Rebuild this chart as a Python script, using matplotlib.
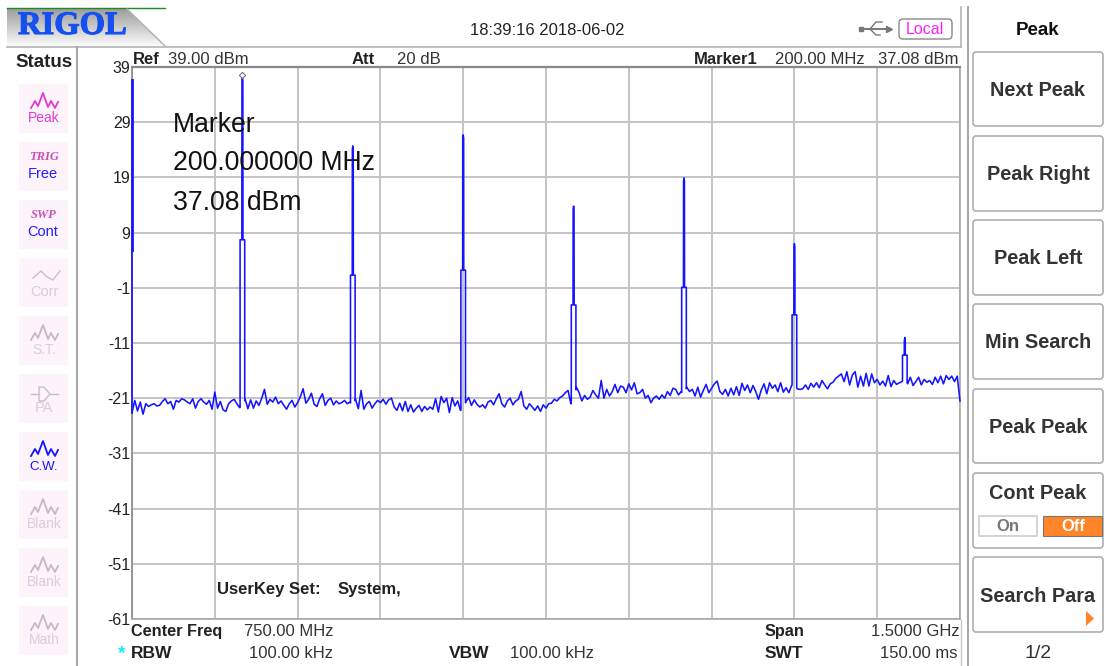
import numpy as np
import matplotlib
matplotlib.use("Agg")
import matplotlib.pyplot as plt
import matplotlib.patheffects as pe
from matplotlib.patches import FancyBboxPatch, Rectangle, Polygon

plt.rcParams['font.family'] = ['Liberation Sans', 'DejaVu Sans']
plt.rcParams['axes.unicode_minus'] = False

# ---------- data ----------
noise_0 = [-23.6,-21.4,-23.3,-21.7,-23.9,-22.0,-22.5,-22.2,-22.0,-22.4,-22.3,-21.6,-21.1,-22.0,-21.6,-23.0,-21.4,-21.7,-21.1,-21.3,-21.7,-22.0,-21.1,-22.8,-21.6,-21.1,-21.7,-22.1,-21.4,-23.0,-19.9,-22.8,-21.6,-23.1,-23.4,-22.0,-21.5,-21.2,-22.0,-22.7]
noise_200 = [-22.6,-21.2,-22.9,-21.3,-22.8,-21.5,-22.3,-21.0,-19.4,-22.1,-21.2,-21.7,-20.8,-22.0,-21.5,-22.3,-23.0,-22.0,-21.4,-22.6,-21.8,-20.7,-19.3,-21.9,-21.2,-20.1,-22.1,-22.5,-21.1,-20.2,-22.3,-21.4,-21.0,-22.2,-21.5,-22.0,-21.8,-21.4,-22.0,-21.7]
noise_400 = [-22.7,-21.2,-22.9,-19.6,-23.0,-22.0,-21.6,-22.8,-22.0,-21.4,-21.8,-21.2,-22.1,-21.3,-21.0,-22.6,-23.2,-21.9,-23.3,-21.6,-23.4,-22.2,-23.5,-22.8,-22.3,-23.4,-22.5,-23.1,-22.6,-23.0,-21.1,-23.5,-20.7,-21.8,-21.0,-23.6,-20.9,-22.4,-21.5,-23.2]
noise_600 = [-23.0,-21.6,-20.9,-22.3,-21.3,-22.1,-22.6,-22.2,-22.8,-21.7,-21.4,-22.2,-21.1,-20.2,-22.0,-22.6,-21.5,-21.0,-22.2,-21.5,-21.2,-19.8,-22.4,-23.0,-22.0,-22.6,-23.2,-22.4,-23.4,-22.2,-22.8,-22.0,-21.9,-21.2,-21.5,-20.9,-20.6,-20.0,-19.6,-22.0]
noise_800 = [-22.0,-19.0,-20.0,-21.5,-20.5,-21.2,-20.8,-19.6,-20.4,-21.0,-17.8,-21.0,-19.4,-20.6,-19.8,-18.5,-20.0,-18.8,-19.0,-20.0,-18.4,-19.5,-18.2,-20.2,-20.0,-19.4,-21.0,-20.5,-21.8,-21.0,-20.6,-21.2,-20.4,-21.0,-19.8,-20.5,-19.2,-19.4,-20.4,-19.8]
noise_1000 = [-20.8,-19.0,-19.8,-19.4,-20.6,-19.0,-20.8,-19.6,-18.5,-20.0,-19.2,-18.4,-17.9,-19.8,-20.3,-19.4,-20.6,-19.2,-20.4,-18.9,-20.5,-18.3,-19.6,-18.6,-20.0,-18.7,-19.8,-21.2,-19.5,-18.4,-20.2,-18.2,-19.2,-18.6,-19.8,-18.2,-19.9,-19.1,-20.0,-18.7]
noise_1200 = [-18.1,-19.3,-19.4,-19.3,-18.6,-19.4,-18.3,-19.0,-18.2,-19.1,-17.8,-18.6,-19.3,-18.4,-18.1,-17.4,-17.0,-16.6,-18.0,-16.2,-18.6,-16.8,-16.2,-19.0,-17.0,-18.8,-16.5,-18.8,-16.6,-18.2,-17.6,-18.6,-17.9,-18.8,-16.9,-18.9,-17.8,-18.5,-18.2,-18.0]
noise_1400 = [-17.0,-18.4,-17.2,-18.7,-18.0,-17.2,-18.6,-17.6,-18.1,-17.8,-18.5,-17.2,-18.2,-17.0,-18.4,-16.9,-17.6,-17.0,-18.0,-17.0,-21.5]

peak_freqs = [200, 400, 600, 800, 1000, 1200, 1400]
peak_levels = [37.08, 24.7, 26.7, 13.8, 18.9, 7.0, -10.0]
pedestal_levels = [7.7, 1.3, 2.2, -4.1, -0.9, -5.9, -13.2]
start_level = 36.6
start_pedestal = 5.9

ref_ticks = [39, 29, 19, 9, -1, -11, -21, -31, -41, -51, -61]
freq_ticks = [0, 150, 300, 450, 600, 750, 900, 1050, 1200, 1350, 1500]

status_items = ["Peak", "Free", "Cont", "Corr", "S.T.", "PA", "C.W.", "Blank", "Blank", "Math"]
softkeys = ["Next Peak", "Peak Right", "Peak Left", "Min Search", "Peak Peak", "Cont Peak", "Search Para"]

# ---------- build trace ----------
noise = np.array(noise_0 + noise_200 + noise_400 + noise_600 + noise_800 + noise_1000 + noise_1200 + noise_1400)
noise_f = np.linspace(0, 1500, len(noise))
fs = list(noise_f); vs = list(noise)
half = 4.2
for f0, top, ped in zip(peak_freqs, peak_levels, pedestal_levels):
    keep = [i for i, f in enumerate(fs) if abs(f - f0) > half + 0.1]
    fs = [fs[i] for i in keep]; vs = [vs[i] for i in keep]
    base_l = float(np.interp(f0 - half, noise_f, noise))
    base_r = float(np.interp(f0 + half, noise_f, noise))
    fs += [f0-half, f0-half, f0-1.0, f0-0.8, f0, f0+0.8, f0+1.0, f0+half, f0+half]
    vs += [base_l, ped, ped, top-0.6, top, top-0.6, ped, ped, base_r]
order = np.argsort(fs, kind='stable')
fs = np.array(fs)[order]; vs = np.array(vs)[order]

# ---------- figure ----------
fig = plt.figure(figsize=(11.05, 6.66), dpi=100, facecolor='white')
W, H = 1105, 666
L, R, T, B = 132, 960, 67, 619
ax = fig.add_axes([L/W, 1-B/H, (R-L)/W, (B-T)/H], zorder=2)
ax.set_xlim(0, 1500); ax.set_ylim(-61, 39)
ax.set_xticks(freq_ticks); ax.set_yticks(ref_ticks)
ax.set_xticklabels([])
ax.tick_params(length=0, labelsize=11.5, pad=1, labelcolor='#222222')
ax.grid(True, color='#c4c4c4', lw=1.4)
ax.set_axisbelow(True)
for s in ax.spines.values():
    s.set_color('#a8a8a8'); s.set_linewidth(1.2)
ax.spines['top'].set_color('#888888'); ax.spines['top'].set_linewidth(1.6)
ax.spines['left'].set_color('#888888')

ax.plot(fs, vs, color='#1414ff', lw=1.15, solid_joinstyle='round', clip_on=False, zorder=4)
ax.plot([0, 0], [start_pedestal, start_level], color='#1414ff', lw=2.0, clip_on=False, zorder=4)
ax.plot([0, 0], [noise[0], start_pedestal], color='#1414ff', lw=1.2, clip_on=False, zorder=4)
ax.plot(peak_freqs[0], peak_levels[0] + 0.55, marker='D', ms=3.2, mfc='white', mec='#666666', mew=0.7, ls='none', zorder=5, clip_on=False)

# chrome overlay in pixel coordinates
ui = fig.add_axes([0, 0, 1, 1], zorder=3)
ui.set_xlim(0, W); ui.set_ylim(H, 0); ui.axis('off'); ui.patch.set_alpha(0)

def txt(x, y, s, size=12, weight='normal', color='#222222', ha='left', **kw):
    ui.text(x, y + 1.5, s, fontsize=size, fontweight=weight, color=color, ha=ha, va='center', **kw)

# logo
grad = np.linspace(0, 1, 100).reshape(-1, 1)
grad_rgb = np.dstack([0.62 + 0.36*grad]*3)
im = ui.imshow(grad_rgb, extent=(7, 166, 46, 9), aspect='auto', zorder=1)
poly = Polygon([(7, 9), (127, 9), (165, 46), (7, 46)], closed=True, transform=ui.transData, fc='none', ec='none')
ui.add_patch(poly); im.set_clip_path(poly)
ui.set_xlim(0, W); ui.set_ylim(H, 0)
ui.plot([7, 165], [7.5, 7.5], color='#1f8a1f', lw=1)
ui.plot([127, 165], [9, 46], color='#b0b0b0', lw=1)
ui.text(18, 25.5, "RIGOL", fontsize=23.5, fontweight='bold', family='Liberation Serif', color='#1450ee', ha='left', va='center', zorder=3,
        path_effects=[pe.withStroke(linewidth=0.8, foreground='#1450ee')])

# frame lines
grey = '#b4b4b4'
ui.plot([7, 961], [46.5, 46.5], color=grey, lw=1.2)
ui.plot([961, 961], [7, 46.5], color=grey, lw=1.2)
ui.plot([76.5, 76.5], [46.5, 666], color='#a8a8a8', lw=1.5)
ui.plot([968, 968], [7, 666], color='#a8a8a8', lw=1.5)
ui.plot([961, 961], [620, 666], color='#c8c8c8', lw=1.0)

# header
txt(547, 29, "18:39:16 2018-06-02", 12, ha='center')
ui.add_patch(FancyBboxPatch((901, 21), 49, 16, boxstyle="round,pad=2,rounding_size=4", fc='white', ec='#888888', lw=1))
txt(925, 28.5, "Local", 11.5, color='#ff20ff', ha='center')
# usb icon
ui.plot([861, 889], [29, 29], color='#777777', lw=1.4)
ui.plot([870, 876, 882], [29, 22, 22], color='#777777', lw=1)
ui.plot([870, 876, 880], [29, 35, 35], color='#777777', lw=1)
ui.plot([861], [29], marker='s', ms=3, color='#777777')
ui.plot([889], [29], marker='>', ms=4.5, color='#777777')

txt(133, 58.5, "Ref", 12, 'bold'); txt(168, 58.5, "39.00 dBm", 12, color='#333333')
txt(352, 58.5, "Att", 12, 'bold'); txt(397, 58.5, "20 dB", 12, color='#333333')
txt(694, 58.5, "Marker1", 12, 'bold'); txt(775, 58.5, "200.00 MHz", 12, color='#333333')
txt(958, 58.5, "37.08 dBm", 12, ha='right', color='#333333')

# marker readout
txt(173, 123, "Marker", 19.2, color='#111111')
txt(173, 161, "200.000000 MHz", 19.2, color='#111111')
txt(173, 201, "37.08 dBm", 19.2, color='#111111')
txt(217, 588, "UserKey Set:", 12, 'bold')
txt(338, 588, "System,", 12, 'bold')

# footer
txt(131, 630, "Center Freq", 11.7, 'bold'); txt(333, 630, "750.00 MHz", 12, ha='right', color='#333333')
txt(765, 630, "Span", 11.7, 'bold'); txt(960, 630, "1.5000 GHz", 12, ha='right', color='#333333')
txt(118, 652, "*", 14, 'bold', color='#22e6f0')
txt(131, 652, "RBW", 12.5, 'bold'); txt(333, 652, "100.00 kHz", 12, ha='right', color='#333333')
txt(449, 652, "VBW", 12.5, 'bold'); txt(594, 652, "100.00 kHz", 12, ha='right', color='#333333')
txt(765, 652, "SWT", 12.5, 'bold'); txt(958, 652, "150.00 ms", 12, ha='right', color='#333333')

# status column
txt(44, 61, "Status", 13.5, 'bold', ha='center', color='#222222')
wave = np.array([(-13, 7), (-9, 0), (-6, 5), (-1, -8), (4, 6), (7, 0), (11, 7), (14, 1)])
corr_x = np.array([-15, -7, -1, 5, 12])
corr_y = np.array([20, 13, 19, 22, 13])
faded = '#dccbdc'
icon_colors = ['#e23ad0', '#2020ff', '#2020ff', faded, faded, faded, '#1414ff', faded, faded, faded]
for i, (label, c) in enumerate(zip(status_items, icon_colors)):
    y0 = 84 + i*58
    ui.add_patch(Rectangle((19, y0), 49, 49, fc='#fdf3fb', ec='none'))
    cx = 44
    if label in ("Free", "Cont"):
        head = "TRIG" if label == "Free" else "SWP"
        ui.text(cx, y0+15, head, fontsize=9, fontweight='bold', style='italic', family='Liberation Serif', color='#c850b8', ha='center', va='center')
        txt(cx-1, y0+30, label, 10.5, color=c, ha='center')
    elif label == "Corr":
        ui.plot(cx + corr_x + 4, y0 + corr_y, color='#cdbccd', lw=1)
        txt(cx, y0+33, label, 10.5, color=c, ha='center')
    elif label == "PA":
        ui.plot([cx-13, cx-5], [y0+20, y0+20], color='#cdbccd', lw=1)
        ui.plot([cx+6, cx+14], [y0+20, y0+20], color='#cdbccd', lw=1)
        ui.add_patch(Polygon([(cx-5, y0+13), (cx, y0+13), (cx+6, y0+20), (cx, y0+27), (cx-5, y0+27)], fc='none', ec='#cdbccd', lw=1))
        txt(cx, y0+33, label, 10.5, color=c, ha='center')
    else:
        lc = c if label in ("Peak", "C.W.") else '#c9b6c9'
        ui.plot(cx + wave[:, 0], y0 + 17 + wave[:, 1], color=lc, lw=1.3)
        txt(cx, y0+33, label, 10 if label != "C.W." else 9.5, color=c, ha='center')

# softkeys
txt(1038, 29, "Peak", 13.5, 'bold', ha='center', color='#111111')
key_tops = [52, 136, 220, 304, 389, 473, 557]
key_bottoms = [126, 211, 295, 379, 463, 548, 632]
for k, (label, y0, y1) in enumerate(zip(softkeys, key_tops, key_bottoms)):
    ui.add_patch(FancyBboxPatch((975, y0+2), 126, y1-y0-4, boxstyle="round,pad=2,rounding_size=3", fc='white', ec='#a8a8a8', lw=1.1))
    yc = (y0+y1)/2
    if label == "Cont Peak":
        yc = y0 + 19
    if label == "Search Para":
        yc = y0 + 38
    txt(1038, yc, label, 14.3, 'bold', ha='center', color='#333333')
ui.add_patch(Rectangle((979, 516), 58, 20, fc='white', ec='#c8ccd4', lw=1.2))
txt(1008, 525, "On", 12, 'bold', ha='center', color='#777777')
ui.add_patch(Rectangle((1043, 516), 59, 20, fc='#ff8528', ec='#777777', lw=0.8))
txt(1073, 525, "Off", 12, 'bold', ha='center', color='white')
ui.add_patch(Polygon([(1086, 611), (1094, 618.5), (1086, 626)], fc='#ff8528', ec='none'))
txt(1038, 652, "1/2", 14, ha='center', color='#333333')

fig.savefig("out.png", dpi=100)
